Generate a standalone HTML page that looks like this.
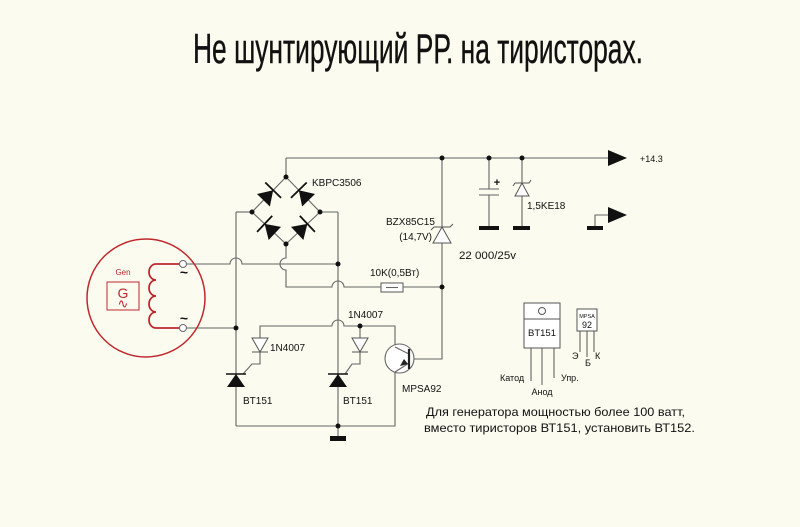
<!DOCTYPE html>
<html><head><meta charset="utf-8"><style>
html,body{margin:0;padding:0;background:#fbfbef;}
svg{display:block;}
text{font-family:"Liberation Sans",Arial,sans-serif;}
</style></head><body>
<svg width="800" height="527" viewBox="0 0 800 527" xmlns="http://www.w3.org/2000/svg">
<rect width="800" height="527" fill="#fbfbef"/>
<text x="193" y="63" font-size="42" fill="#111" stroke="#111" stroke-width="0.4" textLength="450" lengthAdjust="spacingAndGlyphs">Не шунтирующий РР. на тиристорах.</text>

<g stroke="#666" stroke-width="1.1" fill="none">
<path d="M286,158 L610,158"/>
<path d="M286,158 L286,177"/>
<path d="M286,177 L252,212 L286,244 L320,212 Z"/>
<path d="M236,212 L252,212"/>
<path d="M320,212 L338,212"/>
<path d="M236,212 L236,426"/>
<path d="M338,212 L338,426"/>
<path d="M186,264 L230,264 A6,6 0 0 1 242,264 L338,264"/>
<path d="M186,328 L236,328"/>
<path d="M286,244 L286,258 A6,6 0 0 0 286,270 L286,287 L332,287 A6,6 0 0 1 344,287 L381,287"/>
<rect x="381" y="283" width="22" height="9" fill="#fff"/>
<path d="M386,287.5 L398,287.5"/>
<path d="M403,287 L442,287"/>
<path d="M442,158 L442,359 L409,359"/>
<path d="M260,338 L260,326 L332,326 A6,6 0 0 1 344,326 L395,326 L395,347"/>
<path d="M360,326 L360,338"/>
<path d="M260,352 L260,364 L252,364 L243,374"/>
<path d="M360,352 L360,364 L352,364 L345,374"/>
<path d="M236,426 L395,426 L395,372"/>
<path d="M338,426 L338,437"/>
<path d="M489,158 L489,189 M479,189 L499,189 M479,195 L499,195 M489,195 L489,228"/>
<path d="M522,158 L522,228"/>
<path d="M610,215 L595,215 L595,228"/>
<circle cx="399.5" cy="358.5" r="14.5" fill="#fff"/>
<path d="M395,347 L409,354 M409,363 L395,372"/>
<path d="M531,348 L531,381 M542,348 L542,385 M554,348 L554,378"/>
<path d="M580,331 L580,352 M587,331 L587,357 M594,331 L594,352"/>
</g>
<path d="M409,349 L409,369" stroke="#222" stroke-width="2.2"/>
<polygon points="408,364 400,366 404,359" fill="#222"/>

<g fill="#111" stroke="#111">
<g transform="translate(269,194.5) rotate(-45.8)"><polygon points="-8,-9 -8,9 6,0" stroke="none"/><path d="M6,-11 L6,11" stroke-width="1.8"/></g>
<g transform="translate(303,194.5) rotate(-134.2)"><polygon points="-8,-9 -8,9 6,0" stroke="none"/><path d="M6,-11 L6,11" stroke-width="1.8"/></g>
<g transform="translate(269,228) rotate(-136.7)"><polygon points="-8,-9 -8,9 6,0" stroke="none"/><path d="M6,-11 L6,11" stroke-width="1.8"/></g>
<g transform="translate(303,228) rotate(-43.3)"><polygon points="-8,-9 -8,9 6,0" stroke="none"/><path d="M6,-11 L6,11" stroke-width="1.8"/></g>
</g>

<g fill="#111" stroke="#111">
<polygon points="227,387 245,387 236,374" stroke="none"/>
<path d="M226,374 L246,374" stroke-width="1.6"/>
<polygon points="329,387 347,387 338,374" stroke="none"/>
<path d="M328,374 L348,374" stroke-width="1.6"/>
</g>
<g fill="#fff" stroke="#555" stroke-width="1">
<polygon points="252,338 268,338 260,352"/>
<path d="M252,352 L268,352"/>
<polygon points="352,338 368,338 360,352"/>
<path d="M352,352 L368,352"/>
<polygon points="433,243 451,243 442,227"/>
<path d="M431,230 L434,227 L450,227 L453,224" fill="none"/>
<polygon points="515,196 529,196 522,183"/>
<path d="M513,186 L515,183 L529,183 L531,180" fill="none"/>
</g>

<g fill="#111">
<circle cx="286" cy="177" r="2.5"/>
<circle cx="252" cy="212" r="2.5"/>
<circle cx="320" cy="212" r="2.5"/>
<circle cx="286" cy="244" r="2.5"/>
<circle cx="338" cy="264" r="2.5"/>
<circle cx="236" cy="328" r="2.5"/>
<circle cx="360" cy="326" r="2.5"/>
<circle cx="338" cy="426" r="2.5"/>
<circle cx="442" cy="158" r="2.5"/>
<circle cx="489" cy="158" r="2.5"/>
<circle cx="522" cy="158" r="2.5"/>
<circle cx="442" cy="287" r="2.5"/>
<rect x="330" y="436" width="16" height="5"/>
<rect x="479" y="226" width="20" height="4"/>
<rect x="513" y="226" width="17" height="4"/>
<rect x="587" y="226" width="16" height="4"/>
<polygon points="608,150 627,158 608,166"/>
<polygon points="608,207 627,215 608,223"/>
</g>
<text x="497" y="186" font-size="11" font-weight="bold" fill="#111" text-anchor="middle">+</text>

<g stroke="#c0272d" fill="none" stroke-width="1.5">
<circle cx="146" cy="298" r="59"/>
<path d="M180,264 L156,264 A7,8 0 0 0 156,280 A7,8 0 0 0 156,296 A7,8 0 0 0 156,312 A7,8 0 0 0 156,328 L180,328" stroke-width="1.8"/>
<rect x="107" y="282" width="32" height="28" stroke-width="1"/>
</g>
<text x="123" y="275" font-size="8" fill="#c0272d" text-anchor="middle">Gen</text>
<text x="123" y="298" font-size="14" fill="#c0272d" text-anchor="middle">G</text>
<text x="123" y="308" font-size="13" fill="#c0272d" text-anchor="middle">∿</text>
<g fill="#fff" stroke="#666" stroke-width="1">
<circle cx="183" cy="264" r="3.5"/>
<circle cx="183" cy="328" r="3.5"/>
</g>
<text x="184" y="277" font-size="14" fill="#111" text-anchor="middle" font-weight="bold">~</text>
<text x="184" y="323" font-size="14" fill="#111" text-anchor="middle" font-weight="bold">~</text>

<g fill="#111" font-size="10">
<text x="312" y="186">KBPC3506</text>
<text x="370" y="276">10K(0,5Вт)</text>
<text x="386" y="225">BZX85C15</text>
<text x="432" y="240" text-anchor="end">(14,7V)</text>
<text x="527" y="209">1,5KE18</text>
<text x="459" y="259" font-size="11" textLength="57" lengthAdjust="spacingAndGlyphs">22 000/25v</text>
<text x="640" y="162" font-size="9">+14.3</text>
<text x="270" y="351">1N4007</text>
<text x="348" y="318">1N4007</text>
<text x="243" y="404">BT151</text>
<text x="343" y="404">BT151</text>
<text x="402" y="392">MPSA92</text>
</g>

<g stroke="#555" stroke-width="1" fill="#fff">
<rect x="524" y="303" width="36" height="45"/>
<path d="M524,319 L560,319" fill="none"/>
<circle cx="542" cy="311" r="3.5"/>
<rect x="577" y="309" width="20" height="22"/>
</g>
<g fill="#111">
<text x="542" y="336" font-size="9.5" text-anchor="middle">BT151</text>
<text x="587" y="318" font-size="5.5" text-anchor="middle">MPSA</text>
<text x="587" y="328" font-size="9" text-anchor="middle">92</text>
<text x="500" y="381" font-size="9">Катод</text>
<text x="542" y="395" font-size="9" text-anchor="middle">Анод</text>
<text x="561" y="381" font-size="9">Упр.</text>
<text x="572" y="359" font-size="9">Э</text>
<text x="585" y="366" font-size="9">Б</text>
<text x="595" y="359" font-size="9">К</text>
</g>

<g fill="#111" font-size="12">
<text x="426" y="416" textLength="259" lengthAdjust="spacingAndGlyphs">Для генератора мощностью более 100 ватт,</text>
<text x="424" y="432" textLength="271" lengthAdjust="spacingAndGlyphs">вместо тиристоров ВТ151, установить ВТ152.</text>
</g>
</svg>
</body></html>
